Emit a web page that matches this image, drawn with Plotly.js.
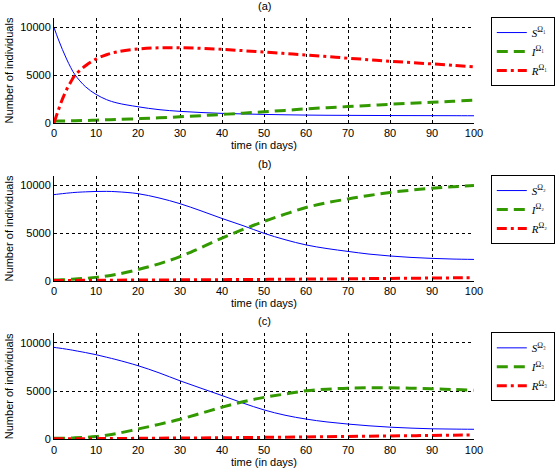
<!DOCTYPE html>
<html><head><meta charset="utf-8">
<script src="https://cdn.plot.ly/plotly-3.0.1.min.js"></script>
<style>html,body{margin:0;padding:0;background:#fff}#chart{width:559px;height:472px}</style>
</head><body><div id="chart"></div>
<script>
const t = [0,1,2,3,4,5,7.5,10,12.5,15,20,25,30,35,40,45,50,55,60,65,70,75,80,85,90,95,100];

const aS = [10000,8800,7700,6700,5800,5050,3800,3000,2450,2100,1700,1400,1220,1100,1010,950,900,860,830,810,800,790,780,775,770,765,760];
const aI = [200,205,210,215,225,235,265,300,335,370,450,540,650,770,900,1030,1170,1320,1480,1600,1720,1840,1960,2070,2170,2280,2380];
const aR = [0,1300,2500,3500,4300,5000,6000,6700,7150,7450,7750,7880,7880,7820,7720,7580,7430,7280,7130,6960,6790,6630,6470,6330,6190,6040,5880];

const bS = [9050,9100,9150,9200,9240,9280,9340,9380,9390,9350,9150,8700,8100,7350,6550,5800,5000,4330,3780,3400,3100,2820,2620,2470,2370,2300,2260];
const bI = [100,110,125,145,170,200,280,380,520,700,1200,1800,2550,3500,4500,5400,6250,7000,7700,8200,8600,8960,9270,9520,9720,9870,10000];
const bR = [60,60,60,62,64,65,70,80,85,90,100,110,120,130,140,155,170,185,200,215,230,250,270,290,310,330,350];

const cS = [9540,9480,9420,9350,9280,9200,9000,8780,8520,8250,7640,6900,6070,5300,4540,3760,3050,2500,2100,1800,1580,1400,1260,1160,1090,1060,1040];
const cI = [100,105,110,120,130,150,200,280,420,600,1070,1550,2080,2700,3330,3900,4350,4700,5030,5200,5310,5340,5340,5300,5240,5170,5100];
const cR = [50,50,52,54,56,58,62,70,78,85,100,115,130,145,160,180,200,225,250,275,300,325,350,375,400,425,450];

const panelLabels = ['(a)','(b)','(c)'];
const subs = ['₁','₂','₃'];
const xTitle = 'time (in days)';
const yTitle = 'Number of individuals';

const panels = [[aS,aI,aR],[bS,bI,bR],[cS,cI,cR]];
const blue = '#0000ff', green = '#339900', red = '#ff0000';

const traces = [];
panels.forEach((p, i) => {
  const ax = i === 0 ? '' : String(i+1);
  const lg = i === 0 ? 'legend' : 'legend' + (i+1);
  const sfx = subs[i];
  traces.push({x:t, y:p[0], xaxis:'x'+ax, yaxis:'y'+ax, legend:lg, mode:'lines', line:{color:blue, width:1, shape:'spline'}, name:'<i>S</i><sup>Ω'+sfx+'</sup>'});
  traces.push({x:t, y:p[1], xaxis:'x'+ax, yaxis:'y'+ax, legend:lg, mode:'lines', line:{color:green, width:3, dash:'11px,6px', shape:'spline'}, name:'<i>I</i><sup>Ω'+sfx+'</sup>'});
  traces.push({x:t, y:p[2], xaxis:'x'+ax, yaxis:'y'+ax, legend:lg, mode:'lines', line:{color:red, width:3, dash:'10px,4px,3px,4px', shape:'spline'}, name:'<i>R</i><sup>Ω'+sfx+'</sup>'});
});

const H = 472;
const doms = [[123,18],[281,176],[439.3,333.3]];
const font = {family:'Liberation Sans, Arial, sans-serif', size:11, color:'#000'};
const layout = {
  width:559, height:472,
  margin:{l:54, r:85, t:0, b:0},
  paper_bgcolor:'#fff', plot_bgcolor:'#fff',
  font: font,
  showlegend:true,
  annotations:[],
};
doms.forEach((d, i) => {
  const ax = i === 0 ? '' : String(i+1);
  layout['xaxis'+ax] = {
    domain:[0,1], anchor:'y'+ax, range:[0,100], dtick:10, tick0:0,
    showline:true, linecolor:'#000', linewidth:1, mirror:false,
    ticks:'inside', ticklen:3, tickcolor:'#000',
    showgrid:true, gridcolor:'#000', griddash:'dot', gridwidth:1, zeroline:false,
    tickfont:font, title:{text:xTitle, font:font, standoff:3}
  };
  layout['yaxis'+ax] = {
    domain:[1-d[0]/H, 1-d[1]/H], anchor:'x'+ax, range:[0,11000],
    tickvals:[0,5000,10000], ticktext:['0','5000','10000'],
    showline:true, linecolor:'#000', linewidth:1, mirror:false,
    ticks:'inside', ticklen:3, tickcolor:'#000',
    showgrid:true, gridcolor:'#000', griddash:'dot', gridwidth:1, zeroline:false,
    tickfont:font, title:{text:yTitle, font:font, standoff:4}
  };
  const lg = i === 0 ? 'legend' : 'legend' + (i+1);
  layout[lg] = {
    x:1.04, xanchor:'left', y:1-d[1]/H+0.002, yanchor:'top',
    bordercolor:'#000', borderwidth:1, bgcolor:'#fff',
    font:{family:'Liberation Serif, Times New Roman, serif', size:11, color:'#000'},
    tracegroupgap:0, itemwidth:30
  };
  layout.annotations.push({
    text:panelLabels[i], xref:'paper', yref:'paper', x:0.5, xanchor:'center',
    y:1-(d[1]-12)/H, yanchor:'middle', showarrow:false, font:font
  });
});

Plotly.newPlot('chart', traces, layout, {displayModeBar:false, staticPlot:true});
</script></body></html>
